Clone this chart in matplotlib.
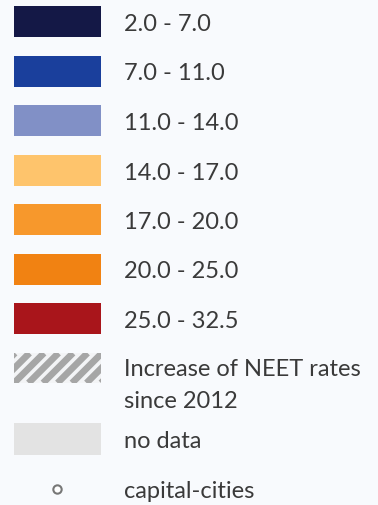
import matplotlib
matplotlib.use("Agg")
import numpy as np
import matplotlib.pyplot as plt
from matplotlib.patches import Rectangle

# ---- legend data ----
class_labels = ["2.0 - 7.0", "7.0 - 11.0", "11.0 - 14.0", "14.0 - 17.0",
                "17.0 - 20.0", "20.0 - 25.0", "25.0 - 32.5"]
class_colors = ["#141846", "#1a3f9c", "#8190c6", "#fec46c",
                "#f7982c", "#f18212", "#a9151b"]
hatch_label_lines = ["Increase of NEET rates", "since 2012"]
hatch_color = "#a6a6a6"
nodata_label = "no data"
nodata_color = "#e3e3e3"
capital_label = "capital-cities"

W, H = 378, 505
bg = "#f8fafd"

fig = plt.figure(figsize=(W/100, H/100), dpi=100, facecolor=bg)
ax = fig.add_axes([0, 0, 1, 1])
ax.set_xlim(0, W)
ax.set_ylim(H, 0)
ax.axis("off")
ax.set_facecolor(bg)

font = dict(family=["Lato", "DejaVu Sans"], fontsize=17, color="#3a3a3a",
            va="center_baseline", ha="left")

box_x, box_w, box_h = 14, 87, 31
text_x = 124
y0, step = 6, 49.5

for i, (lab, col) in enumerate(zip(class_labels, class_colors)):
    y = y0 + i * step
    ax.add_patch(Rectangle((box_x, y), box_w, box_h, facecolor=col, edgecolor="none"))
    ax.text(text_x, y + box_h / 2 + 1, lab, **font)

# hatch entry (diagonal stripes clipped to the box)
yh, hh = 353, 30
clip = Rectangle((box_x, yh), box_w, hh, facecolor="#f3f4f6", edgecolor="none")
ax.add_patch(clip)
sp = 14.5
for k in range(-2, 9):
    xs = box_x + k * sp
    ln, = ax.plot([xs, xs + hh], [yh + hh, yh], color=hatch_color, lw=4.8,
                  solid_capstyle="butt")
    ln.set_clip_path(clip)
for j, line in enumerate(hatch_label_lines):
    ax.text(text_x, 367 + j * 33, line, **font)

# no data
yn = 423
ax.add_patch(Rectangle((box_x, yn), box_w, 32, facecolor=nodata_color, edgecolor="none"))
ax.text(text_x, yn + 16, nodata_label, **font)

# capital cities
ax.plot([57], [489], marker="o", markersize=6, markerfacecolor="white",
        markeredgecolor="#777777", markeredgewidth=1.5, linestyle="none")
ax.text(text_x, 490, capital_label, **font)

fig.savefig("out.png", dpi=100, facecolor=bg)
